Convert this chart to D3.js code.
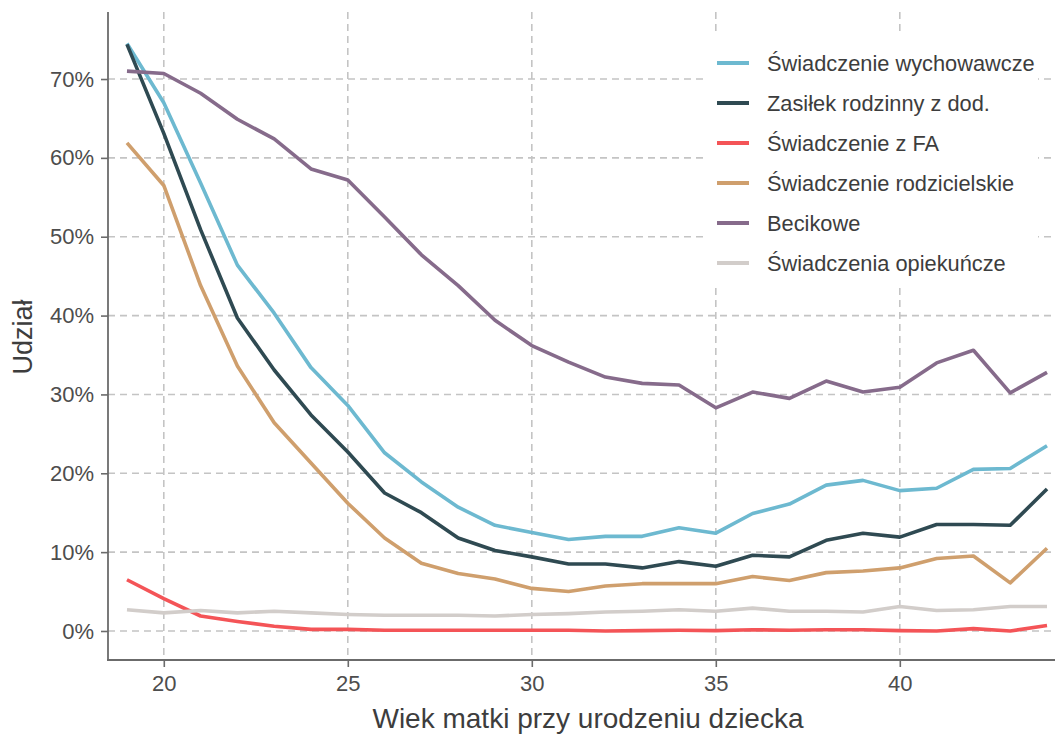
<!DOCTYPE html>
<html>
<head>
<meta charset="utf-8">
<script src="https://cdn.jsdelivr.net/npm/d3@7"></script>
<style>
  html, body { margin: 0; padding: 0; background: #ffffff; }
  svg { display: block; font-family: "Liberation Sans", Arial, sans-serif; }
</style>
</head>
<body>
<svg id="chart" width="1055" height="734"></svg>
<script>
const ages = [19,20,21,22,23,24,25,26,27,28,29,30,31,32,33,34,35,36,37,38,39,40,41,42,43,44];

const wychowawcze = [74.5,67.0,56.8,46.4,40.3,33.4,28.6,22.6,18.9,15.7,13.4,12.5,11.6,12.0,12.0,13.1,12.4,14.9,16.1,18.5,19.1,17.8,18.1,20.5,20.6,23.5];
const zasilek     = [74.4,63.1,50.9,39.7,33.1,27.4,22.7,17.5,15.0,11.8,10.2,9.4,8.5,8.5,8.0,8.8,8.2,9.6,9.4,11.5,12.4,11.9,13.5,13.5,13.4,18.0];
const fa          = [6.5,4.1,1.9,1.2,0.6,0.2,0.2,0.1,0.1,0.1,0.1,0.1,0.1,0.0,0.05,0.1,0.05,0.15,0.1,0.15,0.15,0.05,0.0,0.3,0.0,0.7];
const rodzicielskie = [61.9,56.5,43.8,33.6,26.4,21.3,16.2,11.8,8.6,7.3,6.6,5.4,5.0,5.7,6.0,6.0,6.0,6.9,6.4,7.4,7.6,8.0,9.2,9.5,6.1,10.5];
const becikowe    = [71.0,70.7,68.2,64.9,62.4,58.6,57.2,52.5,47.7,43.8,39.4,36.2,34.1,32.2,31.4,31.2,28.3,30.3,29.5,31.7,30.3,30.9,34.0,35.6,30.2,32.8];
const opiekuncze  = [2.7,2.3,2.6,2.3,2.5,2.3,2.1,2.0,2.0,2.0,1.9,2.1,2.2,2.4,2.5,2.7,2.5,2.9,2.5,2.5,2.4,3.1,2.6,2.7,3.1,3.1];

const seriesNames = ["Świadczenie wychowawcze","Zasiłek rodzinny z dod.","Świadczenie z FA","Świadczenie rodzicielskie","Becikowe","Świadczenia opiekuńcze"];
const seriesColors = ["#6db9d0","#2f4a52","#f45457","#cf9f6d","#866b8b","#d2cdca"];
const seriesValues = [wychowawcze, zasilek, fa, rodzicielskie, becikowe, opiekuncze];

const xTicks = [20,25,30,35,40];
const yTicks = [0,10,20,30,40,50,60,70];

const svg = d3.select("#chart");
const x = d3.scaleLinear().domain([18.484, 44.217]).range([108, 1055]);
const y = d3.scaleLinear().domain([-3.68, 78.5]).range([660, 12]);

const gridColor = "#c4c4c4";
// gridlines
svg.append("g").selectAll("line").data(yTicks).join("line")
  .attr("x1", 108).attr("x2", 1055)
  .attr("y1", d => y(d)).attr("y2", d => y(d))
  .attr("stroke", gridColor).attr("stroke-width", 1.6).attr("stroke-dasharray", "7,5");
svg.append("g").selectAll("line").data(xTicks).join("line")
  .attr("x1", d => x(d)).attr("x2", d => x(d))
  .attr("y1", 12).attr("y2", 660)
  .attr("stroke", gridColor).attr("stroke-width", 1.6).attr("stroke-dasharray", "7,5");

// legend background (covers gridlines)
svg.append("rect").attr("x", 704).attr("y", 32).attr("width", 334).attr("height", 251).attr("fill", "#ffffff");

// lines
const line = d3.line().x((d, i) => x(ages[i])).y(d => y(d));
svg.append("g").selectAll("path").data(seriesValues).join("path")
  .attr("d", d => line(d))
  .attr("fill", "none")
  .attr("stroke", (d, i) => seriesColors[i])
  .attr("stroke-width", 3.6)
  .attr("stroke-linejoin", "round")
  .attr("stroke-linecap", "butt");

// axes
const axisColor = "#6b6b6b";
const xAxis = svg.append("g").attr("transform", "translate(0,660)")
  .call(d3.axisBottom(x).tickValues(xTicks).tickSize(7).tickPadding(8).tickFormat(d3.format("d")));
const yAxis = svg.append("g").attr("transform", "translate(108,0)")
  .call(d3.axisLeft(y).tickValues(yTicks).tickSize(7).tickPadding(7).tickFormat(d => d + "%"));
[xAxis, yAxis].forEach(g => {
  g.select(".domain").remove();
  g.selectAll(".tick line").attr("stroke", axisColor).attr("stroke-width", 1.6);
  g.selectAll(".tick text").attr("fill", "#4d4d4d").style("font-size", "22px").style("font-family", "'Liberation Sans', Arial, sans-serif");
});
svg.append("line").attr("x1", 108).attr("x2", 108).attr("y1", 12).attr("y2", 660).attr("stroke", axisColor).attr("stroke-width", 1.8);
svg.append("line").attr("x1", 107).attr("x2", 1055).attr("y1", 660).attr("y2", 660).attr("stroke", axisColor).attr("stroke-width", 1.8);

// axis titles
svg.append("text").attr("x", 588).attr("y", 728).attr("text-anchor", "middle")
  .attr("fill", "#3d3d3d").style("font-size", "28px").text("Wiek matki przy urodzeniu dziecka");
svg.append("text").attr("transform", "translate(32,337) rotate(-90)").attr("text-anchor", "middle")
  .attr("fill", "#3d3d3d").style("font-size", "27px").text("Udział");

// legend
const leg = svg.append("g").selectAll("g").data(seriesNames).join("g")
  .attr("transform", (d, i) => `translate(0, ${63 + i * 40})`);
leg.append("line").attr("x1", 717).attr("x2", 749).attr("y1", 0).attr("y2", 0)
  .attr("stroke", (d, i) => seriesColors[i]).attr("stroke-width", 4);
leg.append("text").attr("x", 767).attr("y", 0).attr("dy", "0.35em")
  .attr("fill", "#3d3d3d").style("font-size", "21.8px").text(d => d);
</script>
</body>
</html>
